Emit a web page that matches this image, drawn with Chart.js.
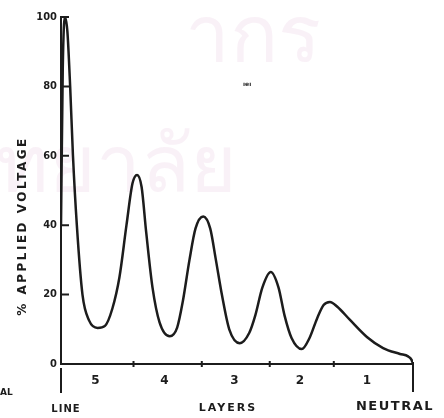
<!DOCTYPE html>
<html lang="en">
<head>
    <meta charset="UTF-8">
    <title>% Applied Voltage across Layers</title>
    <style>
        body {
            margin: 0;
            background: #fff;
        }
        .chart-box {
            width: 444px;
            height: 418px;
        }
    </style>
    <script src="https://cdn.jsdelivr.net/npm/chart.js"></script>
</head>
<body>
    <div class="chart-box">
        <canvas id="voltageChart" width="444" height="418"></canvas>
    </div>

    <script>
        // position along the winding, 0 = line end, 100 = neutral end
        const position = [0, 0.5, 1.1, 1.8, 2.6, 3.4, 4.5, 6.1, 8.0, 10.4, 12.5, 14.6, 16.6, 18.6, 20.3, 21.6,
            22.9, 24.2, 26, 28, 30.9, 33, 34.6, 36.5, 38.2, 40.4, 42.4, 44, 45.7, 47.8, 50.8, 53.5, 55.2,
            57.2, 59.6, 61.8, 63.5, 65.5, 68.4, 70.6, 72.7, 74.6, 76.4, 78.5, 82.1, 86.9, 91.5, 96.3,
            98.6, 99.6, 100];
        // % applied voltage
        const voltage = [40, 85, 100, 96, 80, 60, 40, 20, 12.5, 10.4, 11, 16, 25, 40, 52, 54.5,
            51, 38, 22, 12, 8, 10.5, 18, 30, 39, 42.5, 39, 30, 20, 10, 6, 9, 14,
            22, 26.5, 22, 14, 7.5, 4.3, 7.5, 13, 17, 17.9, 16.5, 12.7, 7.8, 4.6, 2.9,
            2.2, 1.2, 0];

        const yTicks = [0, 20, 40, 60, 80, 100];
        const layerLabels = ['5', '4', '3', '2', '1'];
        const layerCenters = [9.8, 29.4, 49.3, 67.9, 86.9];
        const layerBounds = [20.6, 40, 59.3, 77.5];

        const ink = '#1c1c1c';

        // extra marks of the drawing: inward ticks, end bars, labels
        const extras = {
            id: 'extras',
            beforeDraw(chart) {
                // faint scanned watermark behind the plot
                const c = chart.ctx;
                c.save();
                c.fillStyle = 'rgba(230, 200, 225, 0.25)';
                c.font = '80px "Noto Sans", sans-serif';
                c.fillText('ากร', 185, 62);
                c.fillText('ทยาลัย', -4, 192);
                c.restore();
            },
            afterDraw(chart) {
                const c = chart.ctx;
                const xs = chart.scales.x;
                const ys = chart.scales.y;
                const bottom = ys.getPixelForValue(0);
                const left = xs.getPixelForValue(0);
                const right = xs.getPixelForValue(100);
                c.save();
                c.strokeStyle = ink;
                c.lineWidth = 2;
                c.beginPath();
                yTicks.slice(1).forEach(v => {
                    const y = ys.getPixelForValue(v);
                    c.moveTo(left, y);
                    c.lineTo(left + 8, y);
                });
                layerBounds.forEach(v => {
                    const x = xs.getPixelForValue(v);
                    c.moveTo(x, bottom - 3);
                    c.lineTo(x, bottom + 3);
                });
                c.moveTo(left, bottom + 4);
                c.lineTo(left, bottom + 29);
                c.moveTo(right, bottom - 2);
                c.lineTo(right, bottom + 28);
                c.stroke();

                c.fillStyle = ink;
                c.textAlign = 'center';
                c.textBaseline = 'middle';
                c.font = 'bold 10px "DejaVu Sans", sans-serif';
                c.letterSpacing = '1px';
                c.fillText('LINE', left + 5, 409);
                c.font = 'bold 11px "DejaVu Sans", sans-serif';
                c.letterSpacing = '2px';
                c.fillText('LAYERS', 228, 408);
                c.font = 'bold 13px "DejaVu Sans", sans-serif';
                c.letterSpacing = '1.5px';
                c.fillText('NEUTRAL', 395, 407);
                c.letterSpacing = '0px';
                c.textAlign = 'left';
                c.font = 'bold 9px "DejaVu Sans", sans-serif';
                c.fillText('AL', 0, 393);
                c.font = 'bold 6px "DejaVu Sans", sans-serif';
                c.fillText('ıeı', 243, 84);

                c.font = 'bold 12px "DejaVu Sans", sans-serif';
                c.letterSpacing = '2.5px';
                c.translate(23, 226);
                c.rotate(-Math.PI / 2);
                c.textAlign = 'center';
                c.fillText('% APPLIED VOLTAGE', 0, 0);
                c.restore();
            }
        };

        const ctx = document.getElementById('voltageChart').getContext('2d');
        const voltageChart = new Chart(ctx, {
            type: 'line',
            data: {
                datasets: [{
                    data: position.map((x, i) => ({ x: x, y: voltage[i] })),
                    borderColor: ink,
                    borderWidth: 2.5,
                    pointRadius: 0,
                    fill: false,
                    cubicInterpolationMode: 'monotone'
                }]
            },
            options: {
                responsive: false,
                animation: false,
                layout: {
                    padding: { left: 0, right: 31, top: 17, bottom: 0 }
                },
                plugins: {
                    legend: { display: false },
                    tooltip: { enabled: false }
                },
                scales: {
                    x: {
                        type: 'linear',
                        min: 0,
                        max: 100,
                        afterBuildTicks: scale => {
                            scale.ticks = layerCenters.map(v => ({ value: v }));
                        },
                        afterFit: scale => { scale.height = 54; },
                        grid: { display: false, drawTicks: false },
                        border: { color: ink, width: 2 },
                        ticks: {
                            color: ink,
                            padding: 10,
                            autoSkip: false,
                            maxRotation: 0,
                            font: { family: '"DejaVu Sans", sans-serif', size: 12, weight: 'bold' },
                            callback: (value, index) => layerLabels[index]
                        }
                    },
                    y: {
                        min: 0,
                        max: 100,
                        afterBuildTicks: scale => {
                            scale.ticks = yTicks.map(v => ({ value: v }));
                        },
                        afterFit: scale => { scale.width = 61; },
                        grid: { display: false, drawTicks: false },
                        border: { color: ink, width: 2 },
                        ticks: {
                            color: ink,
                            padding: 4,
                            font: { family: '"DejaVu Sans Condensed", "DejaVu Sans", sans-serif', size: 11, weight: 'bold' }
                        }
                    }
                }
            },
            plugins: [extras]
        });
    </script>
</body>
</html>
